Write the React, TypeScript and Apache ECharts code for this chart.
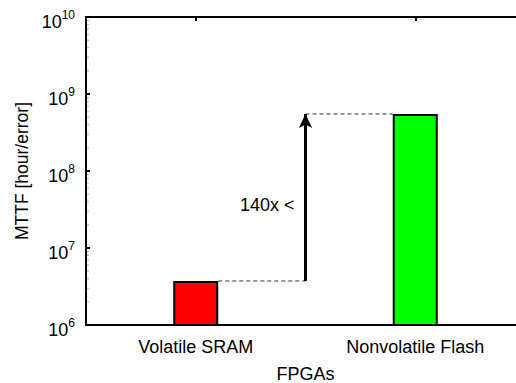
import React, { useEffect, useRef } from "react";
import * as echarts from "echarts";

const categories = ["Volatile SRAM", "Nonvolatile Flash"];
const mttfValues = [3.73e6, 5.5e8];
const barColors = ["#FF0000", "#00FF00"];
const yTickExponents = [6, 7, 8, 9, 10];
const minorMultipliers = [2, 3, 4, 5, 6, 7, 8, 9];
const annotationText = "140x <";
const annotationY = 3.6e7;

export default function App() {
  const ref = useRef<HTMLDivElement>(null);
  useEffect(() => {
    document.body.style.margin = "0";
    if (!ref.current) return;
    const chart = echarts.init(ref.current, null, { renderer: "svg" });
    const font = "Liberation Sans, Arial, Helvetica, sans-serif";
    const halfBar = 22.5 / 219.5;
    const arrowX = 0.5;
    chart.setOption({
      animation: false,
      textStyle: { fontFamily: font },
      grid: { left: 86, top: 17, width: 439, height: 308, show: false, outerBoundsMode: "none", containLabel: false },
      xAxis: [
        {
          type: "category",
          data: categories,
          position: "bottom",
          axisLine: { onZero: false, lineStyle: { color: "#000", width: 2 } },
          axisTick: { show: false },
          axisLabel: { fontSize: 18, color: "#000", margin: 13, fontFamily: font },
          name: "FPGAs",
          nameLocation: "middle",
          nameGap: 40,
          nameTextStyle: { fontSize: 18, lineHeight: 17, color: "#000", fontFamily: font },
        },
        {
          type: "value",
          min: -0.5,
          max: 1.5,
          show: false,
        },
        {
          type: "category",
          data: categories,
          position: "top",
          axisLine: { show: true, onZero: false, lineStyle: { color: "#000", width: 2 } },
          axisTick: { show: true, inside: true, alignWithLabel: true, length: 4, lineStyle: { color: "#000", width: 2 } },
          axisLabel: { show: false },
        },
      ],
      yAxis: [
        {
          type: "log",
          logBase: 10,
          position: "left",
          min: Math.pow(10, yTickExponents[0]),
          max: Math.pow(10, yTickExponents[yTickExponents.length - 1]),
          axisLine: { show: true, onZero: false, lineStyle: { color: "#000", width: 2 } },
          axisTick: { show: true, inside: true, length: 4, lineStyle: { color: "#000", width: 2 } },
          minorTick: { show: false },
          splitLine: { show: false },
          axisLabel: {
            margin: 11,
            color: "#000",
            formatter: (v: number) => {
              const e = Math.round(Math.log10(v));
              return `{b|10}{s|${e}}`;
            },
            rich: {
              b: { fontSize: 18, fontFamily: font, color: "#000", padding: [9, 0, 0, 0] },
              s: { fontSize: 12, fontFamily: font, color: "#000", padding: [0, 0, 5, 0] },
            },
          },
          name: "MTTF [hour/error]",
          nameLocation: "middle",
          nameGap: 55,
          nameTextStyle: { fontSize: 17.5, color: "#000", fontFamily: font },
        },
      ],
      series: [
        {
          type: "bar",
          xAxisIndex: 0,
          barWidth: 45,
          data: mttfValues.map((v, i) => ({
            value: v,
            itemStyle: { color: barColors[i], borderColor: "#000", borderWidth: 2 },
          })),
          silent: true,
        },
        {
          type: "line",
          xAxisIndex: 1,
          symbol: "none",
          lineStyle: { color: "#333", width: 1, type: [4, 3] },
          data: [
            [halfBar, mttfValues[0]],
            [arrowX, mttfValues[0]],
          ],
          silent: true,
        },
        {
          type: "line",
          xAxisIndex: 1,
          symbol: "none",
          lineStyle: { color: "#333", width: 1, type: [4, 3] },
          data: [
            [arrowX, mttfValues[1]],
            [1 - halfBar, mttfValues[1]],
          ],
          markLine: {
            silent: true,
            symbol: ["none", "arrow"],
            symbolSize: [10, 14],
            label: { show: false },
            lineStyle: { color: "#000", width: 3, type: "solid" },
            data: [[{ coord: [arrowX, mttfValues[0]] }, { coord: [arrowX, mttfValues[1]] }]],
          },
          silent: true,
        },
      ],
    });
    const px = (x: number, y: number) => chart.convertToPixel({ xAxisIndex: 1, yAxisIndex: 0 }, [x, y]) as number[];
    const p = px(arrowX, annotationY);
    const bl = px(-0.5, Math.pow(10, yTickExponents[0]));
    const tr = px(1.5, Math.pow(10, yTickExponents[yTickExponents.length - 1]));
    const minorTicks: any[] = [];
    yTickExponents.slice(0, -1).forEach((e) => {
      minorMultipliers.forEach((m) => {
        const y = px(-0.5, m * Math.pow(10, e))[1];
        minorTicks.push({
          type: "line",
          shape: { x1: bl[0], y1: y, x2: bl[0] + 3, y2: y },
          style: { stroke: "#aaa", lineWidth: 1 },
          silent: true,
        });
      });
    });
    chart.setOption({
      graphic: [
        ...minorTicks,
        {
          type: "polyline",
          shape: { points: [[tr[0], tr[1]], [bl[0], tr[1]], [bl[0], bl[1]], [tr[0], bl[1]]] },
          style: { stroke: "#000", lineWidth: 2, fill: "none" },
          silent: true,
          z: 100,
        },
        {
          type: "text",
          x: p[0] - 11,
          y: p[1],
          style: {
            text: annotationText,
            fontSize: 18,
            fontFamily: font,
            fill: "#000",
            align: "right",
            verticalAlign: "middle",
          },
          silent: true,
        },
      ],
    });
    return () => chart.dispose();
  }, []);
  return <div ref={ref} style={{ width: 516, height: 383 }} />;
}
